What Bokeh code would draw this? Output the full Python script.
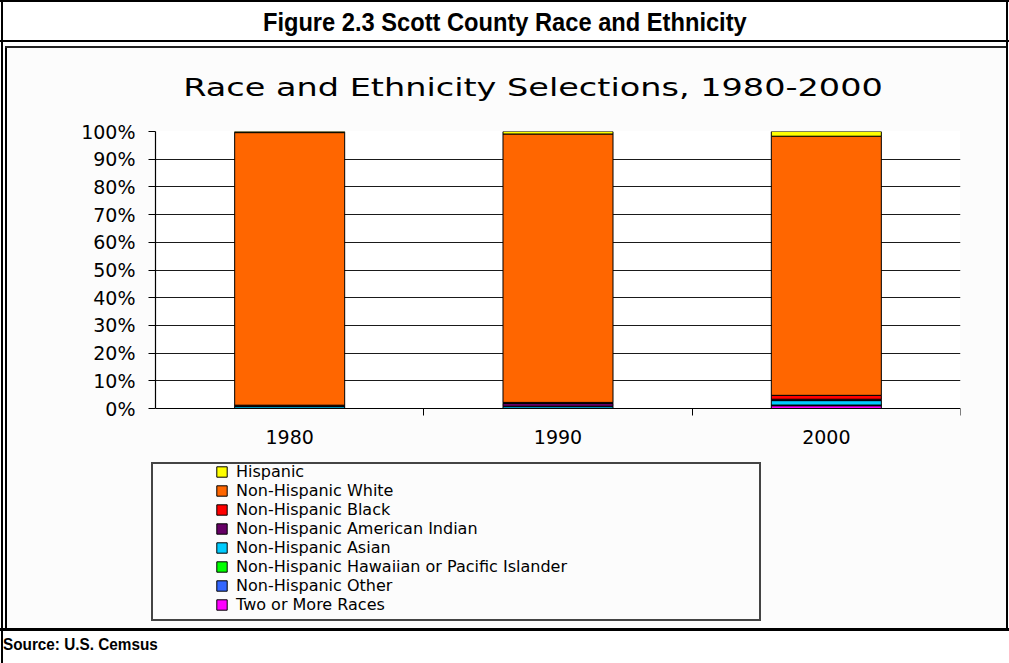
from bokeh.plotting import figure
from bokeh.layouts import column
from bokeh.models import (Range1d, FixedTicker, LinearAxis, Legend, LegendItem, Div,
                          PrintfTickFormatter, Grid, ColumnDataSource)
from bokeh.embed import file_html
from bokeh.resources import INLINE

# ---------------- data ----------------
figure_title = "Figure 2.3 Scott County Race and Ethnicity"
chart_title = "Race and Ethnicity Selections, 1980-2000"
source_note = "Source: U.S. Cemsus"
years = ["1980", "1990", "2000"]
groups = ["Two or More Races", "Non-Hispanic Other",
          "Non-Hispanic Hawaiian or Pacific Islander", "Non-Hispanic Asian",
          "Non-Hispanic American Indian", "Non-Hispanic Black",
          "Non-Hispanic White", "Hispanic"]
two_or_more = [0.0, 0.0, 1.0]
nh_other = [0.1, 0.1, 0.2]
nh_hawaiian = [0.0, 0.0, 0.05]
nh_asian = [0.7, 0.7, 1.6]
nh_american_indian = [0.2, 1.0, 0.5]
nh_black = [0.2, 0.4, 1.4]
nh_white = [98.4, 96.9, 93.55]
hispanic = [0.4, 0.9, 1.7]
colors = ["#FF00FF", "#3366FF", "#00FF00", "#00CCFF",
          "#660066", "#FF0000", "#FF6600", "#FFFF00"]
y_ticks = [0, 10, 20, 30, 40, 50, 60, 70, 80, 90, 100]

series = [two_or_more, nh_other, nh_hawaiian, nh_asian,
          nh_american_indian, nh_black, nh_white, hispanic]
xpos = [i + 0.5 for i in range(len(years))]
data = {"x": xpos}
for g, s in zip(groups, series):
    data[g] = s
source = ColumnDataSource(data)

FONT = "DejaVu Sans"
W, H = 1009, 663

# layout (page pixels)
PLOT_L, PLOT_R, PLOT_T, PLOT_B = 155, 960, 131, 408   # 0%..100% plot area
FRAME_B = 618                                           # frame extends down over the legend
px_per_unit = (PLOT_B - PLOT_T) / 100.0
y_min = -(FRAME_B - PLOT_B) / px_per_unit

# ---------------- background layer (frames and headings) ----------------


def rect(l, t, r, b, style):
    return (f'<div style="position:absolute;left:{l}px;top:{t}px;'
            f'width:{r - l}px;height:{b - t}px;{style}"></div>')


def text(content, l, t, w, h, css, justify="center", origin="center"):
    return (f'<div style="position:absolute;left:{l}px;top:{t}px;width:{w}px;height:{h}px;'
            f'display:flex;align-items:center;justify-content:{justify};">'
            f'<span style="display:inline-block;white-space:nowrap;color:#000;'
            f'transform-origin:{origin};{css}">{content}</span></div>')


parts = [
    rect(6, 47, 1006, 628, "background:#FCFCFC;"),
    rect(PLOT_L, PLOT_T, PLOT_R, PLOT_B, "background:#FFFFFF;"),
    rect(0, 0, 1009, 2, "background:#000;"),            # top border
    rect(0, 40, 1009, 42, "background:#000;"),          # header bottom line
    rect(1, 0, 2.5, 663, "background:#000;"),           # outer left
    rect(5, 46, 6.5, 630, "background:#000;"),          # chart box left
    rect(5, 46, 1006, 47.5, "background:#222;"),        # chart box top
    rect(1006, 0, 1008, 630, "background:#000;"),       # right border
    rect(0, 628, 1009, 630.5, "background:#000;"),      # bottom thick line
    rect(151, 462, 761, 621, "box-sizing:border-box;border:2px solid #444;"),  # legend frame
    text(figure_title, 0, 3, 1010, 40,
         "font-family:'Liberation Sans',Arial,sans-serif;font-weight:bold;"
         "font-size:26px;transform:scaleX(0.91);"),
    text(chart_title, 33.5, 68, 1000, 40,
         "font-family:'DejaVu Sans',sans-serif;font-size:25px;transform:scaleX(1.34);"),
    text(source_note, 3, 635, 400, 20,
         "font-family:'Liberation Sans',Arial,sans-serif;font-weight:bold;"
         "font-size:17px;transform:scaleX(0.9);", justify="flex-start", origin="left"),
]
html = ('<div style="position:relative;width:%dpx;height:%dpx;overflow:hidden;">%s</div>'
        % (W, H, "".join(parts)))
bg = Div(text=html, width=W, height=H, margin=0)

# ---------------- chart layer (overlaid on the background) ----------------
p = figure(width=W, height=H, x_range=Range1d(0, len(years)), y_range=Range1d(y_min, 100),
           output_backend="svg", toolbar_location=None,
           x_axis_type=None, y_axis_type=None,
           min_border_left=PLOT_L, min_border_right=W - PLOT_R,
           min_border_top=PLOT_T, min_border_bottom=H - FRAME_B,
           outline_line_color=None, background_fill_color=None,
           border_fill_color=None, margin=(-H, 0, 0, 0))
p.grid.visible = False

yaxis = LinearAxis(ticker=FixedTicker(ticks=y_ticks, minor_ticks=[]),
                   formatter=PrintfTickFormatter(format="%d%%"), bounds=(0, 100),
                   major_tick_in=0, major_tick_out=7,
                   axis_line_color="black", axis_line_width=1.2,
                   major_tick_line_color="black",
                   minor_tick_line_color=None,
                   major_label_text_font=FONT, major_label_text_font_size="19px",
                   major_label_text_color="black", major_label_standoff=13)
p.add_layout(yaxis, "left")

xaxis = LinearAxis(ticker=FixedTicker(ticks=xpos, minor_ticks=[1, 2, 3]),
                   fixed_location=0,
                   major_label_overrides={x: y for x, y in zip(xpos, years)},
                   major_tick_line_color=None, major_tick_in=0, major_tick_out=0,
                   minor_tick_in=0, minor_tick_out=7, minor_tick_line_color="black",
                   axis_line_color="black", axis_line_width=1.2,
                   major_label_text_font=FONT, major_label_text_font_size="19px",
                   major_label_text_color="black", major_label_standoff=14)
p.add_layout(xaxis, "below")

p.add_layout(Grid(dimension=1, ticker=FixedTicker(ticks=y_ticks[1:-1]),
                  grid_line_color="#1a1a1a", grid_line_width=1.2))

renderers = p.vbar_stack(stackers=groups, x="x", width=0.41, source=source,
                         fill_color=colors, line_color="black", line_width=1)

items = [LegendItem(label=g, renderers=[r]) for g, r in zip(groups, renderers)][::-1]
legend = Legend(items=items, location=(215 - PLOT_L, FRAME_B - 614), orientation="vertical",
                label_text_font=FONT, label_text_font_size="16px",
                label_text_color="black",
                glyph_width=13, glyph_height=13, label_standoff=8,
                spacing=0, padding=0, margin=0, label_height=16,
                border_line_color=None, background_fill_alpha=0)
p.add_layout(legend, "center")

layout = column(bg, p, spacing=0)
open("out.html", "w").write(file_html(layout, INLINE))
